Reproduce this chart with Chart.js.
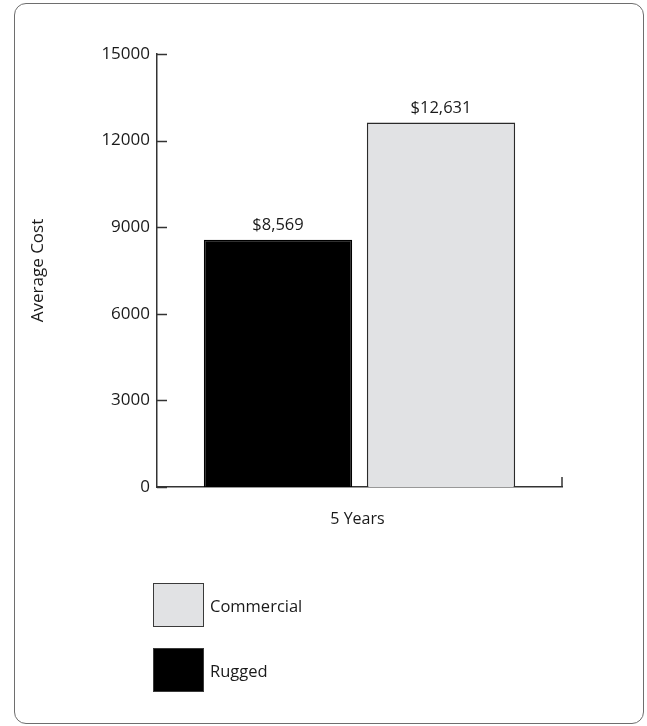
<!DOCTYPE html>
<html>
<head>
<meta charset="utf-8">
<script src="https://cdn.jsdelivr.net/npm/chart.js@4/dist/chart.umd.min.js"></script>
<style>
  html, body { margin: 0; padding: 0; background: #fff; }
  #wrap { position: relative; width: 647px; height: 726px; overflow: hidden; font-family: "Open Sans", sans-serif; color: #1a1a1a; }
  #frame { position: absolute; left: 14px; top: 3px; width: 628px; height: 719px; border: 1.5px solid #6e6e6e; border-radius: 12px; }
  #chart { position: absolute; left: 0; top: 0; }
  .legend-item { position: absolute; left: 153px; height: 44px; display: flex; align-items: center; font-size: 16.5px; }
  .legend-box { width: 49px; height: 42px; border: 1.5px solid #3a3a3a; margin-right: 6px; }
</style>
</head>
<body>
<div id="wrap">
  <div id="frame"></div>
  <canvas id="chart" width="647" height="726"></canvas>
  <div id="legend"></div>
</div>
<script>
// ====== Chart Data ======
const categories = ["5 Years"];
const seriesNames = ["Rugged", "Commercial"];
const ruggedValues = [8569];
const commercialValues = [12631];
const yTicks = [0, 3000, 6000, 9000, 12000, 15000];
const seriesColors = ["#000000", "#e1e2e4"];

// ====== Bar Value Labels + Inward Ticks ======
const extrasPlugin = {
  id: "extras",
  afterDraw(chart) {
    const ctx = chart.ctx;
    const y = chart.scales.y;
    const area = chart.chartArea;
    ctx.save();
    ctx.strokeStyle = "#333";
    ctx.lineWidth = 1.5;
    // y ticks pointing into the plot
    yTicks.forEach(v => {
      const py = Math.round(y.getPixelForValue(v)) + 0.5;
      ctx.beginPath();
      ctx.moveTo(area.left, py);
      ctx.lineTo(area.left + 10, py);
      ctx.stroke();
    });
    // small tick at right end of x axis
    ctx.beginPath();
    ctx.moveTo(area.right, area.bottom);
    ctx.lineTo(area.right, area.bottom - 10);
    ctx.stroke();

    // value labels
    ctx.fillStyle = "#1a1a1a";
    ctx.font = "16.5px 'Open Sans'";
    ctx.textAlign = "center";
    ctx.textBaseline = "middle";
    chart.data.datasets.forEach((ds, i) => {
      chart.getDatasetMeta(i).data.forEach((bar, j) => {
        const txt = "$" + ds.data[j].toLocaleString("en-US");
        ctx.fillText(txt, bar.x, bar.y - 14);
      });
    });
    ctx.restore();
  }
};

// ====== Render Chart ======
const ctx = document.getElementById("chart").getContext("2d");
Chart.defaults.font.family = "'Open Sans', sans-serif";
Chart.defaults.font.size = 16;
Chart.defaults.color = "#1a1a1a";

const chart = new Chart(ctx, {
  type: "bar",
  data: {
    labels: categories,
    datasets: [
      {
        label: seriesNames[0],
        data: ruggedValues,
        backgroundColor: seriesColors[0],
        borderColor: "#000",
        borderWidth: 1.5
      },
      {
        label: seriesNames[1],
        data: commercialValues,
        backgroundColor: seriesColors[1],
        borderColor: "#2a2a2a",
        borderWidth: 1.5
      }
    ]
  },
  options: {
    responsive: false,
    animation: false,
    devicePixelRatio: 1,
    layout: { padding: { top: 54, right: 85, bottom: 179, left: 0 } },
    plugins: {
      legend: { display: false },
      tooltip: { enabled: false }
    },
    datasets: {
      bar: { categoryPercentage: 0.805, barPercentage: 0.91 }
    },
    scales: {
      x: {
        grid: { display: false, drawTicks: false },
        border: { display: true, color: "#333", width: 1.5 },
        ticks: { padding: 23, labelOffset: -2 },
        afterFit: scale => { scale.height = 60; }
      },
      y: {
        min: 0,
        max: 15000,
        afterBuildTicks: scale => { scale.ticks = yTicks.map(v => ({ value: v })); },
        grid: { display: false, drawTicks: false },
        border: { display: true, color: "#333", width: 1.5 },
        ticks: { padding: 7, font: { size: 17 }, callback: v => String(v) },
        title: {
          display: true,
          text: "Average Cost",
          font: { size: 17 },
          padding: { top: 28, bottom: 0 }
        },
        afterFit: scale => { scale.width = 157; }
      }
    }
  },
  plugins: [extrasPlugin]
});

// ====== Legend (Commercial first, then Rugged) ======
const legend = document.getElementById("legend");
const legendTops = [583, 648];
[1, 0].forEach((idx, k) => {
  const item = document.createElement("div");
  item.className = "legend-item";
  item.style.top = legendTops[k] + "px";
  item.innerHTML = `<div class="legend-box" style="background:${seriesColors[idx]}"></div><span>${seriesNames[idx]}</span>`;
  legend.appendChild(item);
});
</script>
</body>
</html>
